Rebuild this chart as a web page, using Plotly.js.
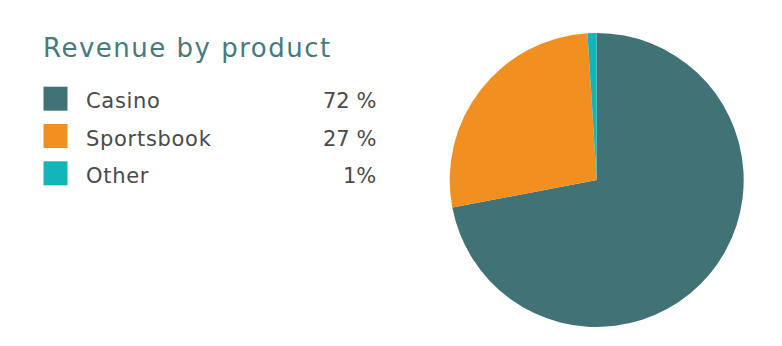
<!DOCTYPE html>
<html>
<head>
<meta charset="utf-8">
<script src="https://cdn.plot.ly/plotly-3.0.1.min.js"></script>
<style>html,body{margin:0;padding:0;background:#fff;}#chart{width:782px;height:346px;}</style>
</head>
<body>
<div id="chart"></div>
<script>
const titleText = "Revenue by product";
const categories = ["Casino", "Sportsbook", "Other"];
const values = [72, 27, 1];
const pctLabels = ["72 %", "27 %", "1%"];
const colors = ["#417275", "#F28F21", "#12B5BA"];

const W = 782, H = 346;
const FONT = "DejaVu Sans, sans-serif";
const px = x => x / W;
const py = y => 1 - y / H;
const spaced = (t, s) => '<span style="letter-spacing:' + s + 'px">' + t + '</span>';

const annotations = [{
  text: spaced(titleText, 1.5), xref: "paper", yref: "paper", x: px(41), y: py(48),
  xanchor: "left", yanchor: "middle", showarrow: false,
  font: {family: FONT, size: 26, color: "#487A7C"}
}];
const shapes = [];
const rowY0 = 98.7, rowStep = 37.3;
categories.forEach((c, i) => {
  const cy = rowY0 + i * rowStep;
  shapes.push({type: "rect", xref: "paper", yref: "paper",
    x0: px(43.5), x1: px(67.5), y0: py(cy - 12), y1: py(cy + 12),
    fillcolor: colors[i], line: {width: 0}});
  annotations.push({text: spaced(c, 0.7), xref: "paper", yref: "paper", x: px(84), y: py(cy + 2.5),
    xanchor: "left", yanchor: "middle", showarrow: false,
    font: {family: FONT, size: 21, color: "#4a4a4a"}});
  annotations.push({text: pctLabels[i], xref: "paper", yref: "paper", x: px(378), y: py(cy + 2.5),
    xanchor: "right", yanchor: "middle", showarrow: false,
    font: {family: FONT, size: 21, color: "#4a4a4a"}});
});

const data = [{
  type: "pie", labels: categories, values: values,
  marker: {colors: colors, line: {width: 0}},
  sort: false, direction: "clockwise", rotation: 0,
  textinfo: "none", hoverinfo: "none",
  domain: {x: [px(449.7), px(743.7)], y: [py(327), py(33)]}
}];

const layout = {
  width: W, height: H, margin: {l: 0, r: 0, t: 0, b: 0},
  paper_bgcolor: "#fff", plot_bgcolor: "#fff",
  showlegend: false, annotations: annotations, shapes: shapes
};
Plotly.newPlot("chart", data, layout, {displayModeBar: false, staticPlot: true});
</script>
</body>
</html>
